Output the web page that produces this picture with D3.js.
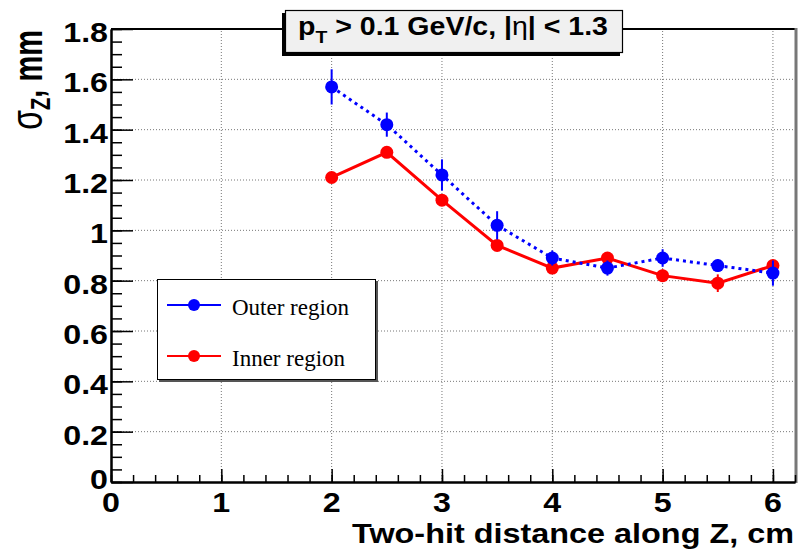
<!DOCTYPE html>
<style>
body { margin: 0; background: #fff; }
svg { font-family: "Liberation Sans", Arial, sans-serif; }
</style>
<svg width="798" height="550"></svg>
<script src="https://d3js.org/d3.v7.min.js"></script>
<script>

// two-hit distance along Z, cm
var xs = [2, 2.5, 3, 3.5, 4, 4.5, 5, 5.5, 6];
// sigma_Z, mm
var outer = [1.57, 1.42, 1.22, 1.02, 0.89, 0.85, 0.89, 0.86, 0.83];
var outerErr = [0.07, 0.048, 0.062, 0.056, 0.03, 0.03, 0.035, 0.025, 0.05];
var inner = [1.21, 1.31, 1.12, 0.94, 0.85, 0.89, 0.82, 0.79, 0.86];
var innerErr = [0.02, 0.02, 0.02, 0.02, 0.02, 0.02, 0.025, 0.035, 0.02];

var xTicks = [0, 1, 2, 3, 4, 5, 6];
var yTicks = [0, 0.2, 0.4, 0.6, 0.8, 1, 1.2, 1.4, 1.6, 1.8];

var svg = d3.select("svg");

var x = d3.scaleLinear().domain([0, 6.2]).range([111, 795]),
    y = d3.scaleLinear().domain([0, 1.8]).range([482, 29]);

var xMinor = d3.range(0, 6.21, 0.2).map(function(d) { return +d.toFixed(2); }),
    yMinor = d3.range(0, 1.801, 0.05).map(function(d) { return +d.toFixed(2); });

// grid
var grid = svg.append("g")
    .attr("stroke", "#777")
    .attr("stroke-width", 1)
    .attr("stroke-dasharray", "1,2");

grid.selectAll(".gx")
    .data(xTicks.slice(1))
  .enter().append("line")
    .attr("x1", function(d) { return x(d); })
    .attr("x2", function(d) { return x(d); })
    .attr("y1", y(0))
    .attr("y2", y(1.8));

grid.selectAll(".gy")
    .data(yTicks.slice(1))
  .enter().append("line")
    .attr("x1", x(0))
    .attr("x2", x(6.2))
    .attr("y1", function(d) { return y(d); })
    .attr("y2", function(d) { return y(d); });

// frame: top line and grey right edge
svg.append("line")
    .attr("x1", x(0)).attr("x2", x(6.2))
    .attr("y1", y(1.8)).attr("y2", y(1.8))
    .attr("stroke", "#000").attr("stroke-width", 2);
svg.append("line")
    .attr("x1", x(6.2) + 1).attr("x2", x(6.2) + 1)
    .attr("y1", y(1.8) - 1).attr("y2", y(0) + 1)
    .attr("stroke", "#777").attr("stroke-width", 3);

// axes, ticks inward
function styleAxis(g) {
  g.selectAll("path").attr("stroke", "#000").attr("stroke-width", 2);
  g.selectAll("line").attr("stroke", "#000").attr("stroke-width", 1.5);
}

svg.append("g")
    .attr("transform", "translate(0," + y(0) + ")")
    .call(d3.axisBottom(x).tickValues(xMinor).tickSize(-7).tickSizeOuter(0).tickFormat(""))
    .call(styleAxis);
svg.append("g")
    .attr("transform", "translate(0," + y(0) + ")")
    .call(d3.axisBottom(x).tickValues(xTicks).tickSize(-13).tickSizeOuter(0).tickFormat(""))
    .call(styleAxis);
svg.append("g")
    .attr("transform", "translate(" + x(0) + ",0)")
    .call(d3.axisLeft(y).tickValues(yMinor).tickSize(-11).tickSizeOuter(0).tickFormat(""))
    .call(styleAxis);
svg.append("g")
    .attr("transform", "translate(" + x(0) + ",0)")
    .call(d3.axisLeft(y).tickValues(yTicks).tickSize(-22).tickSizeOuter(0).tickFormat(""))
    .call(styleAxis);

// tick labels
svg.selectAll(".xl")
    .data(xTicks)
  .enter().append("text")
    .attr("transform", function(d) { return "translate(" + x(d) + ",512) scale(1.15,1)"; })
    .attr("text-anchor", "middle")
    .attr("font-size", 28)
    .attr("font-weight", "bold")
    .text(function(d) { return d; });

svg.selectAll(".yl")
    .data(yTicks)
  .enter().append("text")
    .attr("transform", function(d) { return "translate(108," + (y(d) + (d === 0 ? 7 : 13)) + ") scale(1.15,1)"; })
    .attr("text-anchor", "end")
    .attr("font-size", 28)
    .attr("font-weight", "bold")
    .text(function(d) { return d; });

// axis titles
svg.append("text")
    .attr("x", 794)
    .attr("y", 543)
    .attr("text-anchor", "end")
    .attr("font-size", 28)
    .attr("font-weight", "bold")
    .attr("textLength", 442)
    .attr("lengthAdjust", "spacingAndGlyphs")
    .text("Two-hit distance along Z, cm");

var yt = svg.append("text")
    .attr("transform", "translate(42,30) rotate(-90) scale(1,1.4)")
    .attr("text-anchor", "end")
    .attr("font-size", 29)
    .attr("font-weight", "bold");
yt.append("tspan").attr("font-weight", "normal").attr("font-size", 32).text("σ");
yt.append("tspan").attr("font-size", 20).attr("dy", 6).text("Z");
yt.append("tspan").attr("dy", -6).text(", mm");

// series
var line = d3.line()
    .x(function(d, i) { return x(xs[i]); })
    .y(function(d) { return y(d); });

function drawSeries(vals, errs, color, dash) {
  var g = svg.append("g");
  g.append("path")
      .datum(vals)
      .attr("d", line)
      .attr("fill", "none")
      .attr("stroke", color)
      .attr("stroke-width", 3)
      .attr("stroke-dasharray", dash);
  g.selectAll(".err")
      .data(vals)
    .enter().append("line")
      .attr("x1", function(d, i) { return x(xs[i]); })
      .attr("x2", function(d, i) { return x(xs[i]); })
      .attr("y1", function(d, i) { return y(d - errs[i]); })
      .attr("y2", function(d, i) { return y(d + errs[i]); })
      .attr("stroke", color)
      .attr("stroke-width", 2);
  g.selectAll("circle")
      .data(vals)
    .enter().append("circle")
      .attr("cx", function(d, i) { return x(xs[i]); })
      .attr("cy", function(d) { return y(d); })
      .attr("r", 6.5)
      .attr("fill", color);
}

drawSeries(inner, innerErr, "#ff0000", null);
drawSeries(outer, outerErr, "#0000ff", "3,4");

// title box
svg.append("rect")
    .attr("x", 282).attr("y", 13).attr("width", 338).attr("height", 43)
    .attr("fill", "#000");
svg.append("rect")
    .attr("x", 285.5).attr("y", 10.5).attr("width", 337).attr("height", 42)
    .attr("fill", "#f0f0f0")
    .attr("stroke", "#000")
    .attr("stroke-width", 1.2);
var tt = svg.append("text")
    .attr("x", 298)
    .attr("y", 35)
    .attr("font-size", 25)
    .attr("font-weight", "bold")
    .attr("textLength", 310)
    .attr("lengthAdjust", "spacingAndGlyphs");
tt.append("tspan").text("p");
tt.append("tspan").attr("font-size", 17).attr("dy", 8).text("T");
tt.append("tspan").attr("dy", -8).text(" > 0.1 GeV/c, |");
tt.append("tspan").attr("font-weight", "normal").text("η");
tt.append("tspan").text("| < 1.3");

// legend
var legend = svg.append("g");
legend.append("rect")
    .attr("x", 159).attr("y", 281).attr("width", 219).attr("height", 101)
    .attr("fill", "#555");
legend.append("rect")
    .attr("x", 157.5).attr("y", 279.5).attr("width", 218).attr("height", 100)
    .attr("fill", "#fff")
    .attr("stroke", "#000")
    .attr("stroke-width", 1);

var legendItems = [
  { name: "Outer region", color: "#0000ff", y: 305 },
  { name: "Inner region", color: "#ff0000", y: 356 }
];

var li = legend.selectAll(".li")
    .data(legendItems)
  .enter().append("g");
li.append("line")
    .attr("x1", 167).attr("x2", 221)
    .attr("y1", function(d) { return d.y; })
    .attr("y2", function(d) { return d.y; })
    .attr("stroke", function(d) { return d.color; })
    .attr("stroke-width", 2);
li.append("circle")
    .attr("cx", 194)
    .attr("cy", function(d) { return d.y; })
    .attr("r", 6)
    .attr("fill", function(d) { return d.color; });
li.append("text")
    .attr("x", 232)
    .attr("y", function(d) { return d.y + 10; })
    .attr("font-family", "'Liberation Serif', 'Times New Roman', serif")
    .attr("font-size", 23)
    .text(function(d) { return d.name; });

</script>
